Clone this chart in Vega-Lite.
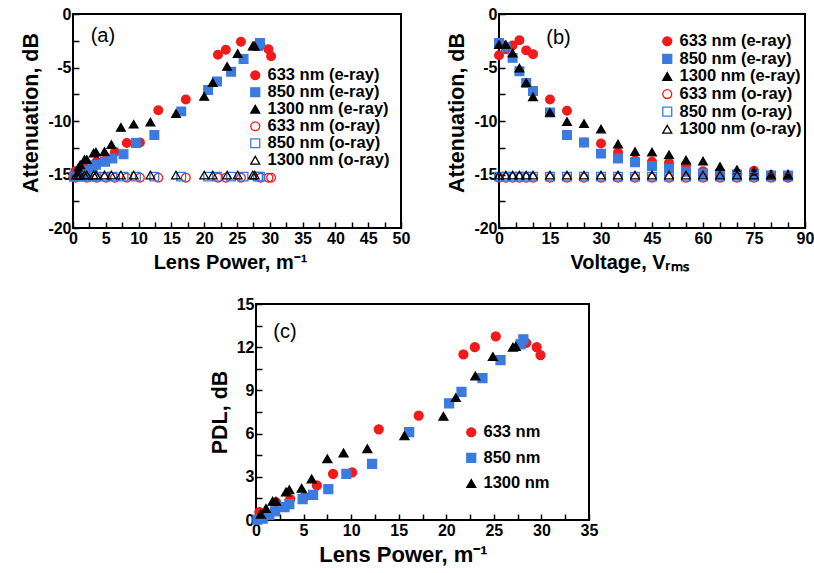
{
"$schema": "https://vega.github.io/schema/vega-lite/v6.json",
"padding": {"left": 19, "top": 5, "right": 0, "bottom": 0},
"datasets": {
"a": [
{"s":"633 nm (e-ray)","x":0.35,"y":-14.7},{"s":"633 nm (e-ray)","x":2.1,"y":-14.0},{"s":"633 nm (e-ray)","x":3.6,"y":-13.8},{"s":"633 nm (e-ray)","x":5.0,"y":-13.6},{"s":"633 nm (e-ray)","x":6.4,"y":-12.9},{"s":"633 nm (e-ray)","x":8.2,"y":-12.05},{"s":"633 nm (e-ray)","x":10.2,"y":-12.0},{"s":"633 nm (e-ray)","x":13.0,"y":-9.0},{"s":"633 nm (e-ray)","x":17.2,"y":-8.0},{"s":"633 nm (e-ray)","x":22.1,"y":-3.8},{"s":"633 nm (e-ray)","x":23.3,"y":-3.35},{"s":"633 nm (e-ray)","x":25.6,"y":-2.6},{"s":"633 nm (e-ray)","x":28.6,"y":-2.95},{"s":"633 nm (e-ray)","x":29.8,"y":-3.3},{"s":"633 nm (e-ray)","x":30.2,"y":-3.95},
{"s":"850 nm (e-ray)","x":0.15,"y":-15.2},{"s":"850 nm (e-ray)","x":0.7,"y":-15.1},{"s":"850 nm (e-ray)","x":1.4,"y":-14.9},{"s":"850 nm (e-ray)","x":2.0,"y":-14.65},{"s":"850 nm (e-ray)","x":3.0,"y":-14.35},{"s":"850 nm (e-ray)","x":3.5,"y":-14.1},{"s":"850 nm (e-ray)","x":4.9,"y":-13.8},{"s":"850 nm (e-ray)","x":6.0,"y":-13.5},{"s":"850 nm (e-ray)","x":7.7,"y":-13.1},{"s":"850 nm (e-ray)","x":9.6,"y":-12.05},{"s":"850 nm (e-ray)","x":12.4,"y":-11.3},{"s":"850 nm (e-ray)","x":16.5,"y":-9.1},{"s":"850 nm (e-ray)","x":20.6,"y":-7.1},{"s":"850 nm (e-ray)","x":21.95,"y":-6.3},{"s":"850 nm (e-ray)","x":24.1,"y":-5.4},{"s":"850 nm (e-ray)","x":26.0,"y":-4.2},{"s":"850 nm (e-ray)","x":28.2,"y":-3.0},{"s":"850 nm (e-ray)","x":28.5,"y":-2.7},
{"s":"1300 nm (e-ray)","x":0.5,"y":-14.8},{"s":"1300 nm (e-ray)","x":0.8,"y":-14.4},{"s":"1300 nm (e-ray)","x":1.1,"y":-14.1},{"s":"1300 nm (e-ray)","x":1.75,"y":-13.6},{"s":"1300 nm (e-ray)","x":2.1,"y":-13.6},{"s":"1300 nm (e-ray)","x":3.15,"y":-13.0},{"s":"1300 nm (e-ray)","x":3.5,"y":-12.9},{"s":"1300 nm (e-ray)","x":4.8,"y":-12.85},{"s":"1300 nm (e-ray)","x":5.85,"y":-12.2},{"s":"1300 nm (e-ray)","x":7.3,"y":-10.6},{"s":"1300 nm (e-ray)","x":9.25,"y":-10.3},{"s":"1300 nm (e-ray)","x":11.8,"y":-10.1},{"s":"1300 nm (e-ray)","x":15.7,"y":-9.3},{"s":"1300 nm (e-ray)","x":20.0,"y":-7.7},{"s":"1300 nm (e-ray)","x":21.3,"y":-6.4},{"s":"1300 nm (e-ray)","x":23.5,"y":-4.9},{"s":"1300 nm (e-ray)","x":25.1,"y":-3.7},{"s":"1300 nm (e-ray)","x":27.4,"y":-3.0},{"s":"1300 nm (e-ray)","x":27.7,"y":-3.0},
{"s":"633 nm (o-ray)","x":0.35,"y":-15.3},{"s":"633 nm (o-ray)","x":2.1,"y":-15.3},{"s":"633 nm (o-ray)","x":3.6,"y":-15.3},{"s":"633 nm (o-ray)","x":5.0,"y":-15.3},{"s":"633 nm (o-ray)","x":6.4,"y":-15.3},{"s":"633 nm (o-ray)","x":8.2,"y":-15.3},{"s":"633 nm (o-ray)","x":10.2,"y":-15.3},{"s":"633 nm (o-ray)","x":13.0,"y":-15.3},{"s":"633 nm (o-ray)","x":17.2,"y":-15.3},{"s":"633 nm (o-ray)","x":22.1,"y":-15.3},{"s":"633 nm (o-ray)","x":23.3,"y":-15.3},{"s":"633 nm (o-ray)","x":25.6,"y":-15.3},{"s":"633 nm (o-ray)","x":28.6,"y":-15.3},{"s":"633 nm (o-ray)","x":29.8,"y":-15.3},{"s":"633 nm (o-ray)","x":30.2,"y":-15.3},
{"s":"850 nm (o-ray)","x":0.15,"y":-15.2},{"s":"850 nm (o-ray)","x":0.7,"y":-15.2},{"s":"850 nm (o-ray)","x":1.4,"y":-15.2},{"s":"850 nm (o-ray)","x":2.0,"y":-15.2},{"s":"850 nm (o-ray)","x":3.0,"y":-15.2},{"s":"850 nm (o-ray)","x":3.5,"y":-15.2},{"s":"850 nm (o-ray)","x":4.9,"y":-15.2},{"s":"850 nm (o-ray)","x":6.0,"y":-15.2},{"s":"850 nm (o-ray)","x":7.7,"y":-15.2},{"s":"850 nm (o-ray)","x":9.6,"y":-15.2},{"s":"850 nm (o-ray)","x":12.4,"y":-15.2},{"s":"850 nm (o-ray)","x":16.5,"y":-15.2},{"s":"850 nm (o-ray)","x":20.6,"y":-15.2},{"s":"850 nm (o-ray)","x":21.95,"y":-15.2},{"s":"850 nm (o-ray)","x":24.1,"y":-15.2},{"s":"850 nm (o-ray)","x":26.0,"y":-15.2},{"s":"850 nm (o-ray)","x":28.2,"y":-15.2},{"s":"850 nm (o-ray)","x":28.5,"y":-15.2},
{"s":"1300 nm (o-ray)","x":0.5,"y":-15.05},{"s":"1300 nm (o-ray)","x":0.8,"y":-15.05},{"s":"1300 nm (o-ray)","x":1.1,"y":-15.05},{"s":"1300 nm (o-ray)","x":1.75,"y":-15.05},{"s":"1300 nm (o-ray)","x":2.1,"y":-15.05},{"s":"1300 nm (o-ray)","x":3.15,"y":-15.05},{"s":"1300 nm (o-ray)","x":3.5,"y":-15.05},{"s":"1300 nm (o-ray)","x":4.8,"y":-15.05},{"s":"1300 nm (o-ray)","x":5.85,"y":-15.05},{"s":"1300 nm (o-ray)","x":7.3,"y":-15.05},{"s":"1300 nm (o-ray)","x":9.25,"y":-15.05},{"s":"1300 nm (o-ray)","x":11.8,"y":-15.05},{"s":"1300 nm (o-ray)","x":15.7,"y":-15.05},{"s":"1300 nm (o-ray)","x":20.0,"y":-15.05},{"s":"1300 nm (o-ray)","x":21.3,"y":-15.05},{"s":"1300 nm (o-ray)","x":23.5,"y":-15.05},{"s":"1300 nm (o-ray)","x":25.1,"y":-15.05},{"s":"1300 nm (o-ray)","x":27.4,"y":-15.05},{"s":"1300 nm (o-ray)","x":27.7,"y":-15.05}
],
"b": [
{"s":"633 nm (e-ray)","x":0,"y":-3.85},{"s":"633 nm (e-ray)","x":2,"y":-3.3},{"s":"633 nm (e-ray)","x":4,"y":-2.95},{"s":"633 nm (e-ray)","x":6,"y":-2.45},{"s":"633 nm (e-ray)","x":8,"y":-3.4},{"s":"633 nm (e-ray)","x":10,"y":-3.75},{"s":"633 nm (e-ray)","x":15,"y":-8.0},{"s":"633 nm (e-ray)","x":20,"y":-9.05},{"s":"633 nm (e-ray)","x":25,"y":-12.0},{"s":"633 nm (e-ray)","x":30,"y":-12.1},{"s":"633 nm (e-ray)","x":35,"y":-12.95},{"s":"633 nm (e-ray)","x":40,"y":-13.7},{"s":"633 nm (e-ray)","x":45,"y":-13.8},{"s":"633 nm (e-ray)","x":50,"y":-13.9},{"s":"633 nm (e-ray)","x":55,"y":-14.1},{"s":"633 nm (e-ray)","x":60,"y":-14.7},{"s":"633 nm (e-ray)","x":65,"y":-14.8},{"s":"633 nm (e-ray)","x":70,"y":-14.9},{"s":"633 nm (e-ray)","x":75,"y":-14.65},{"s":"633 nm (e-ray)","x":80,"y":-15.05},{"s":"633 nm (e-ray)","x":85,"y":-15.2},
{"s":"850 nm (e-ray)","x":0,"y":-2.7},{"s":"850 nm (e-ray)","x":2,"y":-3.1},{"s":"850 nm (e-ray)","x":4,"y":-4.1},{"s":"850 nm (e-ray)","x":6,"y":-5.35},{"s":"850 nm (e-ray)","x":8,"y":-6.45},{"s":"850 nm (e-ray)","x":10,"y":-7.2},{"s":"850 nm (e-ray)","x":15,"y":-9.2},{"s":"850 nm (e-ray)","x":20,"y":-11.3},{"s":"850 nm (e-ray)","x":25,"y":-12.0},{"s":"850 nm (e-ray)","x":30,"y":-13.05},{"s":"850 nm (e-ray)","x":35,"y":-13.5},{"s":"850 nm (e-ray)","x":40,"y":-13.85},{"s":"850 nm (e-ray)","x":45,"y":-14.2},{"s":"850 nm (e-ray)","x":50,"y":-14.45},{"s":"850 nm (e-ray)","x":55,"y":-14.75},{"s":"850 nm (e-ray)","x":60,"y":-14.9},{"s":"850 nm (e-ray)","x":65,"y":-15.0},{"s":"850 nm (e-ray)","x":70,"y":-15.0},{"s":"850 nm (e-ray)","x":75,"y":-15.05},{"s":"850 nm (e-ray)","x":80,"y":-15.1},{"s":"850 nm (e-ray)","x":85,"y":-15.1},
{"s":"1300 nm (e-ray)","x":0,"y":-2.85},{"s":"1300 nm (e-ray)","x":2,"y":-2.85},{"s":"1300 nm (e-ray)","x":4,"y":-3.65},{"s":"1300 nm (e-ray)","x":6,"y":-5.05},{"s":"1300 nm (e-ray)","x":8,"y":-6.4},{"s":"1300 nm (e-ray)","x":10,"y":-7.75},{"s":"1300 nm (e-ray)","x":15,"y":-9.2},{"s":"1300 nm (e-ray)","x":20,"y":-10.05},{"s":"1300 nm (e-ray)","x":25,"y":-10.25},{"s":"1300 nm (e-ray)","x":30,"y":-10.75},{"s":"1300 nm (e-ray)","x":35,"y":-12.15},{"s":"1300 nm (e-ray)","x":40,"y":-12.85},{"s":"1300 nm (e-ray)","x":45,"y":-12.9},{"s":"1300 nm (e-ray)","x":50,"y":-13.15},{"s":"1300 nm (e-ray)","x":55,"y":-13.65},{"s":"1300 nm (e-ray)","x":60,"y":-13.75},{"s":"1300 nm (e-ray)","x":65,"y":-14.25},{"s":"1300 nm (e-ray)","x":70,"y":-14.55},{"s":"1300 nm (e-ray)","x":75,"y":-14.7},{"s":"1300 nm (e-ray)","x":80,"y":-14.95},{"s":"1300 nm (e-ray)","x":85,"y":-14.95},
{"s":"633 nm (o-ray)","x":0,"y":-15.3},{"s":"633 nm (o-ray)","x":2,"y":-15.3},{"s":"633 nm (o-ray)","x":4,"y":-15.3},{"s":"633 nm (o-ray)","x":6,"y":-15.3},{"s":"633 nm (o-ray)","x":8,"y":-15.3},{"s":"633 nm (o-ray)","x":10,"y":-15.3},{"s":"633 nm (o-ray)","x":15,"y":-15.3},{"s":"633 nm (o-ray)","x":20,"y":-15.3},{"s":"633 nm (o-ray)","x":25,"y":-15.3},{"s":"633 nm (o-ray)","x":30,"y":-15.3},{"s":"633 nm (o-ray)","x":35,"y":-15.3},{"s":"633 nm (o-ray)","x":40,"y":-15.3},{"s":"633 nm (o-ray)","x":45,"y":-15.3},{"s":"633 nm (o-ray)","x":50,"y":-15.3},{"s":"633 nm (o-ray)","x":55,"y":-15.3},{"s":"633 nm (o-ray)","x":60,"y":-15.3},{"s":"633 nm (o-ray)","x":65,"y":-15.3},{"s":"633 nm (o-ray)","x":70,"y":-15.3},{"s":"633 nm (o-ray)","x":75,"y":-15.3},{"s":"633 nm (o-ray)","x":80,"y":-15.3},{"s":"633 nm (o-ray)","x":85,"y":-15.3},
{"s":"850 nm (o-ray)","x":0,"y":-15.2},{"s":"850 nm (o-ray)","x":2,"y":-15.2},{"s":"850 nm (o-ray)","x":4,"y":-15.2},{"s":"850 nm (o-ray)","x":6,"y":-15.2},{"s":"850 nm (o-ray)","x":8,"y":-15.2},{"s":"850 nm (o-ray)","x":10,"y":-15.2},{"s":"850 nm (o-ray)","x":15,"y":-15.2},{"s":"850 nm (o-ray)","x":20,"y":-15.2},{"s":"850 nm (o-ray)","x":25,"y":-15.2},{"s":"850 nm (o-ray)","x":30,"y":-15.2},{"s":"850 nm (o-ray)","x":35,"y":-15.2},{"s":"850 nm (o-ray)","x":40,"y":-15.2},{"s":"850 nm (o-ray)","x":45,"y":-15.2},{"s":"850 nm (o-ray)","x":50,"y":-15.2},{"s":"850 nm (o-ray)","x":55,"y":-15.2},{"s":"850 nm (o-ray)","x":60,"y":-15.2},{"s":"850 nm (o-ray)","x":65,"y":-15.2},{"s":"850 nm (o-ray)","x":70,"y":-15.2},{"s":"850 nm (o-ray)","x":75,"y":-15.2},{"s":"850 nm (o-ray)","x":80,"y":-15.2},{"s":"850 nm (o-ray)","x":85,"y":-15.2},
{"s":"1300 nm (o-ray)","x":0,"y":-15.05},{"s":"1300 nm (o-ray)","x":2,"y":-15.05},{"s":"1300 nm (o-ray)","x":4,"y":-15.05},{"s":"1300 nm (o-ray)","x":6,"y":-15.05},{"s":"1300 nm (o-ray)","x":8,"y":-15.05},{"s":"1300 nm (o-ray)","x":10,"y":-15.05},{"s":"1300 nm (o-ray)","x":15,"y":-15.05},{"s":"1300 nm (o-ray)","x":20,"y":-15.05},{"s":"1300 nm (o-ray)","x":25,"y":-15.05},{"s":"1300 nm (o-ray)","x":30,"y":-15.05},{"s":"1300 nm (o-ray)","x":35,"y":-15.05},{"s":"1300 nm (o-ray)","x":40,"y":-15.05},{"s":"1300 nm (o-ray)","x":45,"y":-15.05},{"s":"1300 nm (o-ray)","x":50,"y":-15.05},{"s":"1300 nm (o-ray)","x":55,"y":-15.05},{"s":"1300 nm (o-ray)","x":60,"y":-15.05},{"s":"1300 nm (o-ray)","x":65,"y":-15.05},{"s":"1300 nm (o-ray)","x":70,"y":-15.05},{"s":"1300 nm (o-ray)","x":75,"y":-15.05},{"s":"1300 nm (o-ray)","x":80,"y":-15.05},{"s":"1300 nm (o-ray)","x":85,"y":-15.05}
],
"c": [
{"s":"633 nm","x":0.35,"y":0.55},{"s":"633 nm","x":2.1,"y":1.25},{"s":"633 nm","x":3.6,"y":1.45},{"s":"633 nm","x":5.1,"y":1.6},{"s":"633 nm","x":6.4,"y":2.4},{"s":"633 nm","x":8.1,"y":3.2},{"s":"633 nm","x":10.1,"y":3.3},{"s":"633 nm","x":12.9,"y":6.3},{"s":"633 nm","x":17.1,"y":7.25},{"s":"633 nm","x":21.8,"y":11.5},{"s":"633 nm","x":23.0,"y":12.0},{"s":"633 nm","x":25.2,"y":12.75},{"s":"633 nm","x":28.4,"y":12.3},{"s":"633 nm","x":29.5,"y":12.0},{"s":"633 nm","x":29.9,"y":11.45},
{"s":"850 nm","x":0.15,"y":0.03},{"s":"850 nm","x":0.7,"y":0.1},{"s":"850 nm","x":1.4,"y":0.35},{"s":"850 nm","x":2.0,"y":0.6},{"s":"850 nm","x":3.0,"y":0.9},{"s":"850 nm","x":3.5,"y":1.1},{"s":"850 nm","x":4.9,"y":1.45},{"s":"850 nm","x":6.0,"y":1.75},{"s":"850 nm","x":7.6,"y":2.15},{"s":"850 nm","x":9.5,"y":3.2},{"s":"850 nm","x":12.2,"y":3.9},{"s":"850 nm","x":16.1,"y":6.1},{"s":"850 nm","x":20.3,"y":8.1},{"s":"850 nm","x":21.6,"y":8.9},{"s":"850 nm","x":23.8,"y":9.85},{"s":"850 nm","x":25.7,"y":11.1},{"s":"850 nm","x":27.8,"y":12.2},{"s":"850 nm","x":28.1,"y":12.55},
{"s":"1300 nm","x":0.5,"y":0.4},{"s":"1300 nm","x":1.05,"y":0.8},{"s":"1300 nm","x":1.75,"y":1.3},{"s":"1300 nm","x":2.1,"y":1.3},{"s":"1300 nm","x":3.15,"y":1.95},{"s":"1300 nm","x":3.5,"y":2.1},{"s":"1300 nm","x":4.8,"y":2.2},{"s":"1300 nm","x":5.85,"y":2.85},{"s":"1300 nm","x":7.5,"y":4.25},{"s":"1300 nm","x":9.2,"y":4.65},{"s":"1300 nm","x":11.7,"y":4.95},{"s":"1300 nm","x":15.6,"y":5.85},{"s":"1300 nm","x":19.7,"y":7.2},{"s":"1300 nm","x":21.0,"y":8.5},{"s":"1300 nm","x":23.05,"y":10.0},{"s":"1300 nm","x":24.9,"y":11.35},{"s":"1300 nm","x":27.0,"y":12.0},{"s":"1300 nm","x":27.3,"y":12.05}
]
},
"config": {
"font": "Liberation Sans",
"view": {"stroke": "black", "strokeWidth": 2},
"axis": {"labelFont": "Liberation Sans", "labelFontSize": 16, "labelFontWeight": "bold", "labelColor": "black", "titleFont": "Liberation Sans", "titleFontSize": 20, "titleFontWeight": "bold", "titleColor": "black", "grid": false, "domain": false, "tickColor": "black", "tickSize": -6, "tickWidth": 1.5, "labelPadding": 8, "labelOverlap": false, "labelFlush": false, "titlePadding": 6},
"axisLeft": {"titleFontSize": 21.5, "titlePadding": 5},
"legend": {"labelFont": "Liberation Sans", "labelFontSize": 16.5, "labelFontWeight": "bold", "labelColor": "black", "symbolOpacity": 1, "symbolStrokeWidth": 1.3, "symbolSize": 80, "padding": 0, "labelOffset": 4, "title": null}
},
"resolve": {"scale": {"shape": "independent", "stroke": "independent", "fill": "independent"}, "legend": {"shape": "independent", "stroke": "independent", "fill": "independent"}},
"vconcat": [
{"hconcat": [
{
"width": 328, "height": 214,
"data": {"name": "a"},
"layer": [
{"mark": {"type": "point", "size": 75, "strokeWidth": 1.3, "opacity": 1},
"encoding": {
"x": {"field": "x", "type": "quantitative", "scale": {"domain": [0, 50], "nice": false}, "axis": {"title": "Lens Power, m⁻¹", "titleX": 157, "tickCount": 100, "labelOverlap": false, "values": [0,2.5,5,7.5,10,12.5,15,17.5,20,22.5,25,27.5,30,32.5,35,37.5,40,42.5,45,47.5,50], "labelExpr": "datum.value % 5 === 0 ? '' + datum.value : ''"}},
"y": {"field": "y", "type": "quantitative", "scale": {"domain": [-20, 0], "nice": false}, "axis": {"title": "Attenuation, dB", "titleY": 98.5, "tickCount": 100, "labelOverlap": false, "values": [-20,-17.5,-15,-12.5,-10,-7.5,-5,-2.5,0], "labelExpr": "datum.value % 5 === 0 ? '' + datum.value : ''"}},
"shape": {"field": "s", "type": "nominal", "scale": {"domain": ["633 nm (e-ray)","850 nm (e-ray)","1300 nm (e-ray)","633 nm (o-ray)","850 nm (o-ray)","1300 nm (o-ray)"], "range": ["circle","square","triangle-up","circle","square","triangle-up"]}, "legend": {"orient": "none", "legendX": 174, "legendY": 53, "rowPadding": -0.2}},
"stroke": {"field": "s", "type": "nominal", "scale": {"domain": ["633 nm (e-ray)","850 nm (e-ray)","1300 nm (e-ray)","633 nm (o-ray)","850 nm (o-ray)","1300 nm (o-ray)"], "range": ["#f21a1a","#3b7be0","#000000","#f21a1a","#3b7be0","#000000"]}, "legend": {"orient": "none", "legendX": 174, "legendY": 53, "rowPadding": -0.2}},
"fill": {"field": "s", "type": "nominal", "scale": {"domain": ["633 nm (e-ray)","850 nm (e-ray)","1300 nm (e-ray)","633 nm (o-ray)","850 nm (o-ray)","1300 nm (o-ray)"], "range": ["#f21a1a","#3b7be0","#000000","transparent","transparent","transparent"]}, "legend": {"orient": "none", "legendX": 174, "legendY": 53, "rowPadding": -0.2}}
}},
{"data": {"values": [{"t": "(a)"}]}, "mark": {"type": "text", "fontSize": 20, "font": "Liberation Sans", "color": "black"},
"encoding": {"x": {"datum": 4.55}, "y": {"datum": -2.1}, "text": {"field": "t"}}}
]
},
{
"width": 306, "height": 214,
"data": {"name": "b"},
"layer": [
{"mark": {"type": "point", "size": 75, "strokeWidth": 1.3, "opacity": 1},
"encoding": {
"x": {"field": "x", "type": "quantitative", "scale": {"domain": [0, 90], "nice": false}, "axis": {"title": "Voltage, Vᵣₘₛ", "titleX": 130, "tickCount": 100, "labelOverlap": false, "values": [0,5,10,15,20,25,30,35,40,45,50,55,60,65,70,75,80,85,90], "labelExpr": "datum.value % 15 === 0 ? '' + datum.value : ''"}},
"y": {"field": "y", "type": "quantitative", "scale": {"domain": [-20, 0], "nice": false}, "axis": {"title": "Attenuation, dB", "titleY": 98.5, "tickCount": 100, "labelOverlap": false, "values": [-20,-17.5,-15,-12.5,-10,-7.5,-5,-2.5,0], "labelExpr": "datum.value % 5 === 0 ? '' + datum.value : ''"}},
"shape": {"field": "s", "type": "nominal", "scale": {"domain": ["633 nm (e-ray)","850 nm (e-ray)","1300 nm (e-ray)","633 nm (o-ray)","850 nm (o-ray)","1300 nm (o-ray)"], "range": ["circle","square","triangle-up","circle","square","triangle-up"]}, "legend": {"orient": "none", "legendX": 160, "legendY": 19, "rowPadding": 0.6}},
"stroke": {"field": "s", "type": "nominal", "scale": {"domain": ["633 nm (e-ray)","850 nm (e-ray)","1300 nm (e-ray)","633 nm (o-ray)","850 nm (o-ray)","1300 nm (o-ray)"], "range": ["#f21a1a","#3b7be0","#000000","#f21a1a","#3b7be0","#000000"]}, "legend": {"orient": "none", "legendX": 160, "legendY": 19, "rowPadding": 0.6}},
"fill": {"field": "s", "type": "nominal", "scale": {"domain": ["633 nm (e-ray)","850 nm (e-ray)","1300 nm (e-ray)","633 nm (o-ray)","850 nm (o-ray)","1300 nm (o-ray)"], "range": ["#f21a1a","#3b7be0","#000000","transparent","transparent","transparent"]}, "legend": {"orient": "none", "legendX": 160, "legendY": 19, "rowPadding": 0.6}}
}},
{"data": {"values": [{"t": "(b)"}]}, "mark": {"type": "text", "fontSize": 20, "font": "Liberation Sans", "color": "black"},
"encoding": {"x": {"datum": 17.5}, "y": {"datum": -2.2}, "text": {"field": "t"}}}
]
}
], "spacing": 34,
"resolve": {"scale": {"shape": "independent", "stroke": "independent", "fill": "independent"}, "legend": {"shape": "independent", "stroke": "independent", "fill": "independent"}}},
{"hconcat": [
{"width": 135, "height": 10, "view": {"stroke": null}, "data": {"values": []}, "mark": "point", "encoding": {}},
{
"width": 333, "height": 216,
"data": {"name": "c"},
"layer": [
{"mark": {"type": "point", "size": 80, "strokeWidth": 1.3, "opacity": 1},
"encoding": {
"x": {"field": "x", "type": "quantitative", "scale": {"domain": [0, 35], "nice": false}, "axis": {"title": "Lens Power, m⁻¹", "titleFontSize": 22, "titleX": 147, "tickCount": 100, "labelOverlap": false, "values": [0,2.5,5,7.5,10,12.5,15,17.5,20,22.5,25,27.5,30,32.5,35], "labelExpr": "datum.value % 5 === 0 ? '' + datum.value : ''"}},
"y": {"field": "y", "type": "quantitative", "scale": {"domain": [0, 15], "nice": false}, "axis": {"title": "PDL, dB", "tickCount": 100, "labelOverlap": false, "values": [0,1.5,3,4.5,6,7.5,9,10.5,12,13.5,15], "labelExpr": "datum.value % 3 === 0 ? '' + datum.value : ''"}},
"shape": {"field": "s", "type": "nominal", "scale": {"domain": ["633 nm","850 nm","1300 nm"], "range": ["circle","square","triangle-up"]}, "legend": {"orient": "none", "legendX": 207, "legendY": 120, "rowPadding": 8.6}},
"stroke": {"field": "s", "type": "nominal", "scale": {"domain": ["633 nm","850 nm","1300 nm"], "range": ["#f21a1a","#3b7be0","#000000"]}, "legend": {"orient": "none", "legendX": 207, "legendY": 120, "rowPadding": 8.6}},
"fill": {"field": "s", "type": "nominal", "scale": {"domain": ["633 nm","850 nm","1300 nm"], "range": ["#f21a1a","#3b7be0","#000000"]}, "legend": {"orient": "none", "legendX": 207, "legendY": 120, "rowPadding": 8.6}}
}},
{"data": {"values": [{"t": "(c)"}]}, "mark": {"type": "text", "fontSize": 20, "font": "Liberation Sans", "color": "black"},
"encoding": {"x": {"datum": 3.05}, "y": {"datum": 13.07}, "text": {"field": "t"}}}
]
}
], "spacing": 0,
"resolve": {"scale": {"shape": "independent", "stroke": "independent", "fill": "independent"}, "legend": {"shape": "independent", "stroke": "independent", "fill": "independent"}}}
],
"spacing": 22
}
